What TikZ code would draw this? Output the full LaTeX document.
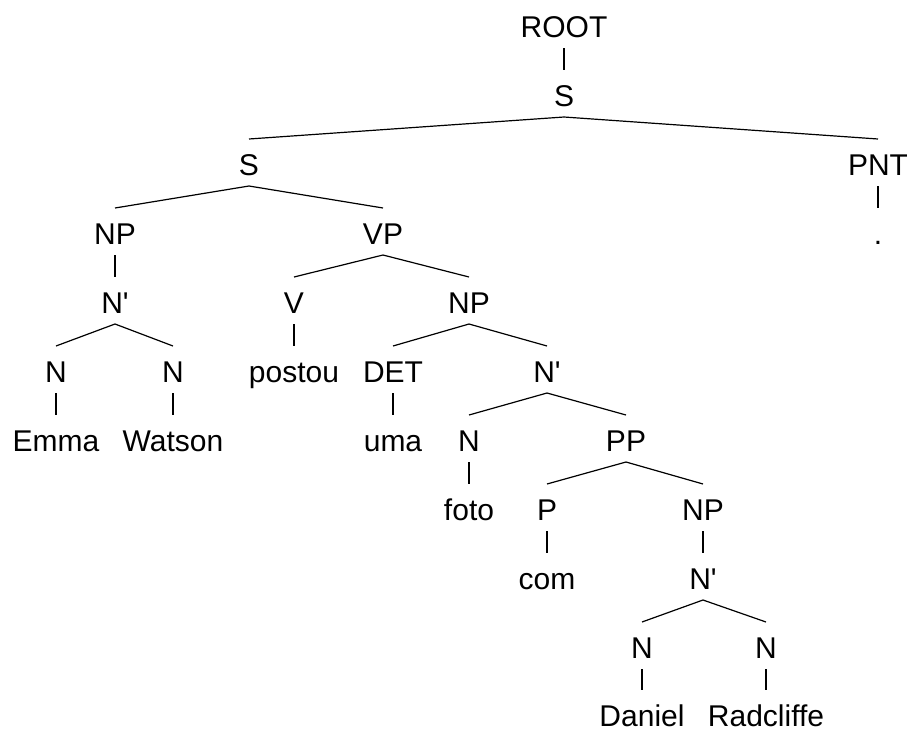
\documentclass[tikz,border=0pt]{standalone}
\usepackage{fontspec}
\newfontfamily\treefont{Liberation Sans}
\usetikzlibrary{calc}
\tikzset{
  lbl/.style={anchor=base, inner sep=0pt, font=\treefont\fontsize{30}{36}\selectfont},
  branch/.style={line width=1.2pt, black},
}
\newcommand\treeedge[2]{\draw[branch] ($(#1.base)+(0,-11)$) -- ($(#2.base)+(0,36)$);}
\begin{document}
\begin{tikzpicture}[x=1pt,y=1pt]
\useasboundingbox (0,0) rectangle (907,-731);
% rows: baseline 37 + 69k
\node[lbl] (root) at (564,-37) {ROOT};
\node[lbl] (s0) at (564,-106) {S};
\node[lbl] (s1) at (249,-175) {S};
\node[lbl] (pnt) at (878,-175) {PNT};
\node[lbl] (dot) at (878,-244) {.};
\node[lbl] (np1) at (115,-244) {NP};
\node[lbl] (vp) at (383,-244) {VP};
\node[lbl] (nb1) at (115,-313) {N'};
\node[lbl] (v) at (294,-313) {V};
\node[lbl] (np2) at (469,-313) {NP};
\node[lbl] (n1) at (56,-382) {N};
\node[lbl] (n2) at (173,-382) {N};
\node[lbl] (postou) at (294,-382) {postou};
\node[lbl] (det) at (393,-382) {DET};
\node[lbl] (nb2) at (547,-382) {N'};
\node[lbl] (emma) at (56,-451) {Emma};
\node[lbl] (watson) at (173,-451) {Watson};
\node[lbl] (uma) at (393,-451) {uma};
\node[lbl] (n3) at (469,-451) {N};
\node[lbl] (pp) at (626,-451) {PP};
\node[lbl] (foto) at (469,-520) {foto};
\node[lbl] (p) at (547,-520) {P};
\node[lbl] (np3) at (703,-520) {NP};
\node[lbl] (com) at (547,-589) {com};
\node[lbl] (nb3) at (703,-589) {N'};
\node[lbl] (n4) at (642,-658) {N};
\node[lbl] (n5) at (766,-658) {N};
\node[lbl] (daniel) at (642,-726) {Daniel};
\node[lbl] (radcliffe) at (766,-726) {Radcliffe};
% edges
\treeedge{root}{s0}
\treeedge{s0}{s1}
\treeedge{s0}{pnt}
\treeedge{pnt}{dot}
\treeedge{s1}{np1}
\treeedge{s1}{vp}
\treeedge{np1}{nb1}
\treeedge{nb1}{n1}
\treeedge{nb1}{n2}
\treeedge{n1}{emma}
\treeedge{n2}{watson}
\treeedge{vp}{v}
\treeedge{vp}{np2}
\treeedge{v}{postou}
\treeedge{np2}{det}
\treeedge{np2}{nb2}
\treeedge{det}{uma}
\treeedge{nb2}{n3}
\treeedge{nb2}{pp}
\treeedge{n3}{foto}
\treeedge{pp}{p}
\treeedge{pp}{np3}
\treeedge{p}{com}
\treeedge{np3}{nb3}
\treeedge{nb3}{n4}
\treeedge{nb3}{n5}
\treeedge{n4}{daniel}
\treeedge{n5}{radcliffe}
\end{tikzpicture}
\end{document}
